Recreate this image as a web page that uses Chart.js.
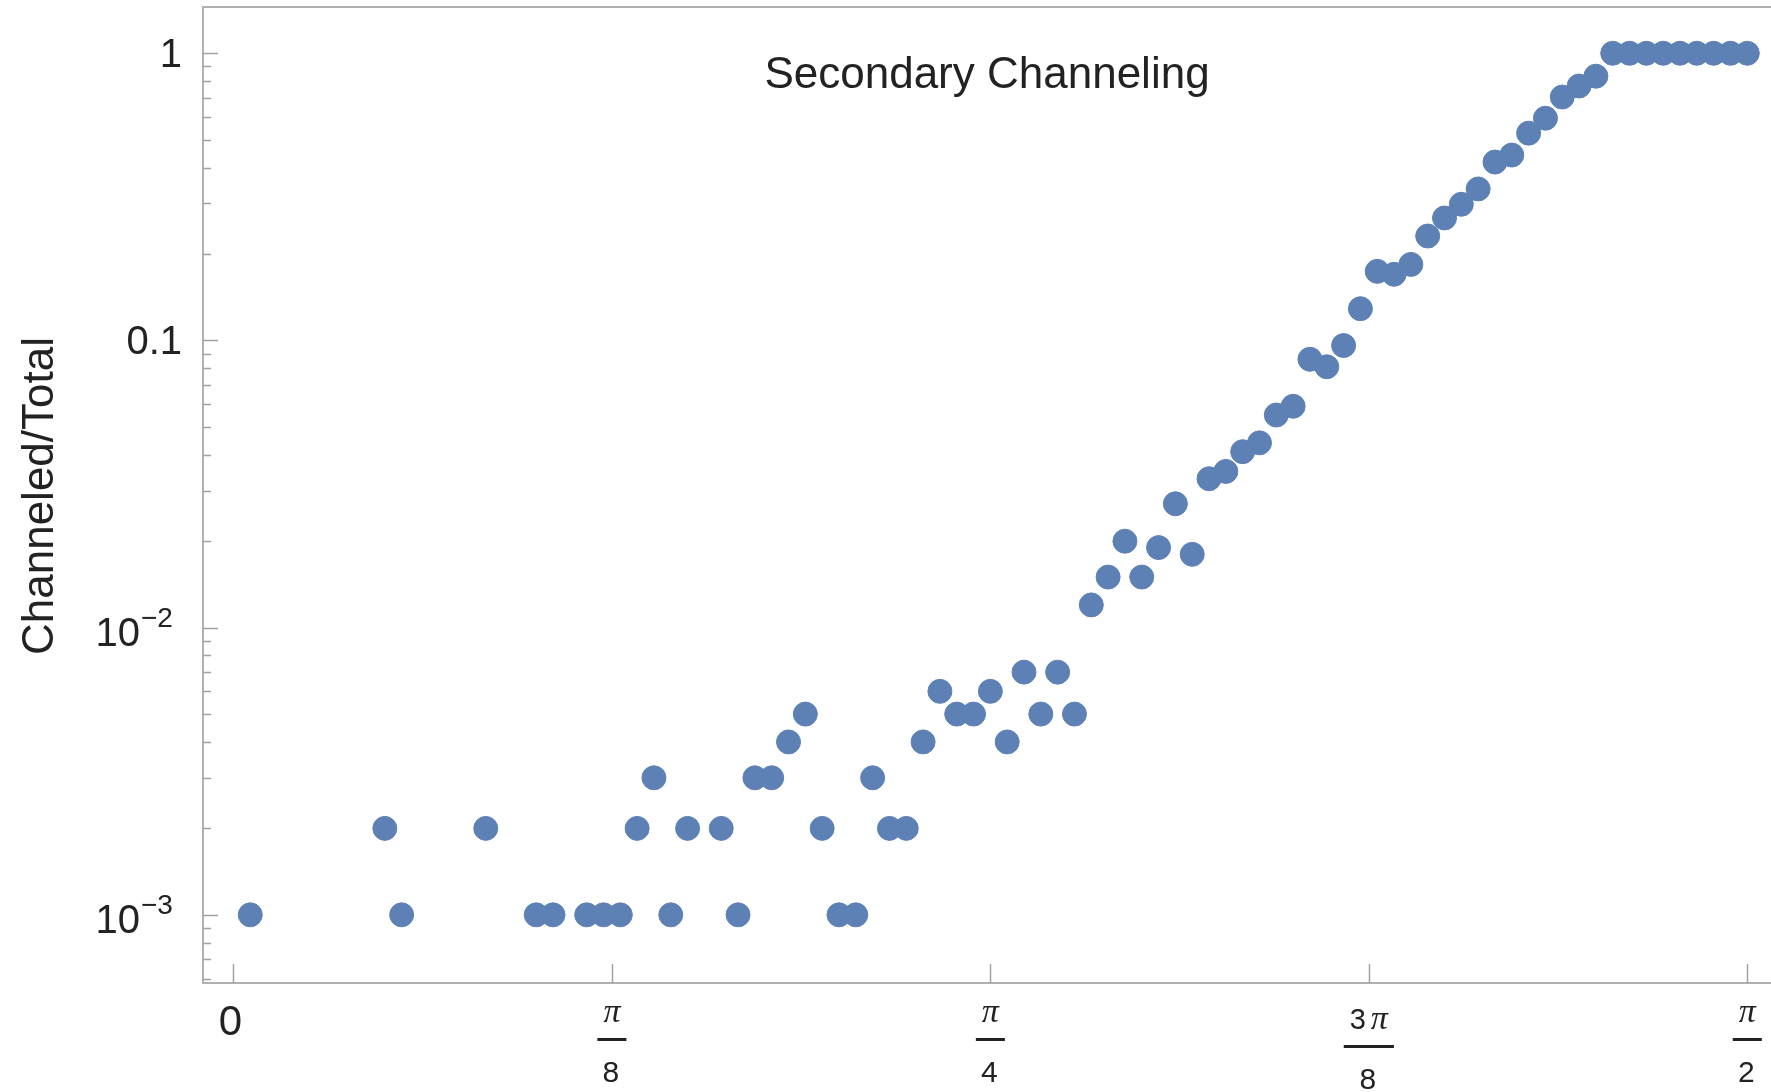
<!DOCTYPE html>
<html>
<head>
<meta charset="utf-8">
<title>Secondary Channeling</title>
<script src="https://cdn.jsdelivr.net/npm/chart.js@4.4.1/dist/chart.umd.min.js"></script>
<style>
    html, body { margin: 0; padding: 0; background: #ffffff; }
    #wrap { width: 1771px; height: 1092px; }
</style>
</head>
<body>
<div id="wrap"><canvas id="myChart" width="1771" height="1092"></canvas></div>
<script>
// angle in degrees (90 = pi/2), one point per degree where the ratio is non zero
var angleDeg = [
    1, 9, 10, 15, 18, 19, 21, 22, 23, 24, 25, 26, 27,
    29, 30, 31, 32, 33, 34, 35, 36, 37, 38, 39, 40,
    41, 42, 43, 44, 45, 46, 47, 48, 49, 50,
    51, 52, 53, 54, 55, 56, 57, 58, 59, 60,
    61, 62, 63, 64, 65, 66, 67, 68, 69, 70,
    71, 72, 73, 74, 75, 76, 77, 78, 79, 80,
    81, 82, 83, 84, 85, 86, 87, 88, 89, 90
];

var channeledRatio = [
    0.001, 0.002, 0.001, 0.002, 0.001, 0.001, 0.001, 0.001, 0.001, 0.002, 0.003, 0.001, 0.002,
    0.002, 0.001, 0.003, 0.003, 0.004, 0.005, 0.002, 0.001, 0.001, 0.003, 0.002, 0.002,
    0.004, 0.006, 0.005, 0.005, 0.006, 0.004, 0.007, 0.005, 0.007, 0.005,
    0.012, 0.015, 0.020, 0.015, 0.019, 0.027, 0.018, 0.033, 0.035, 0.041,
    0.044, 0.055, 0.059, 0.086, 0.081, 0.096, 0.129, 0.174, 0.170, 0.184,
    0.231, 0.267, 0.298, 0.337, 0.418, 0.442, 0.527, 0.594, 0.704, 0.769,
    0.832, 1, 1, 1, 1, 1, 1, 1, 1, 1
];

var xTickValues = [0, 22.5, 45, 67.5, 90];
var xTickLabels = ['0', 'π/8', 'π/4', '3π/8', 'π/2'];

var yTickValues = [1, 0.1, 0.01, 0.001];
var yTickLabels = ['1', '0.1', '10^-2', '10^-3'];

var chartTitle = 'Secondary Channeling';
var yAxisTitle = 'Channeled/Total';

var pointColor = '#5e81b5';
var axisGray = '#b0b0b0';
var tickGray = '#a0a0a0';
var textColor = '#222222';
var sans = '"Liberation Sans", Arial, Helvetica, sans-serif';
var piFont = 'italic 34px "Liberation Serif", "Times New Roman", serif';


// Mathematica style frame: ticks inside, fraction labels, powers of ten
var mathAxes = {
    id: 'mathAxes',
    afterDraw: function (chart) {
        var ctx = chart.ctx;
        var area = chart.chartArea;
        var xs = chart.scales.x;
        var ys = chart.scales.y;
        var i, k, px, py;

        ctx.save();

        // top frame line
        ctx.strokeStyle = axisGray;
        ctx.lineWidth = 2;
        ctx.beginPath();
        ctx.moveTo(area.left, area.top);
        ctx.lineTo(area.right, area.top);
        ctx.stroke();

        // x ticks
        ctx.strokeStyle = tickGray;
        ctx.lineWidth = 1.5;
        for (i = 0; i < xTickValues.length; i++) {
            px = Math.round(xs.getPixelForValue(xTickValues[i])) + 0.5;
            ctx.beginPath();
            ctx.moveTo(px, area.bottom);
            ctx.lineTo(px, area.bottom - 19);
            ctx.stroke();
        }

        // y ticks, major then minor
        for (i = 0; i < yTickValues.length; i++) {
            py = Math.round(ys.getPixelForValue(yTickValues[i])) + 0.5;
            ctx.beginPath();
            ctx.moveTo(area.left, py);
            ctx.lineTo(area.left + 15, py);
            ctx.stroke();
        }
        var decades = [0.0001, 0.001, 0.01, 0.1];
        for (i = 0; i < decades.length; i++) {
            for (k = 2; k <= 9; k++) {
                var v = k * decades[i];
                if (v < ys.min || v > ys.max) continue;
                py = Math.round(ys.getPixelForValue(v)) + 0.5;
                ctx.beginPath();
                ctx.moveTo(area.left, py);
                ctx.lineTo(area.left + 8, py);
                ctx.stroke();
            }
        }

        ctx.fillStyle = textColor;

        // y labels
        for (i = 0; i < yTickLabels.length; i++) {
            var lab = yTickLabels[i];
            py = ys.getPixelForValue(yTickValues[i]);
            ctx.textBaseline = 'alphabetic';
            if (lab.indexOf('^') < 0) {
                ctx.font = '40px ' + sans;
                ctx.textAlign = 'right';
                ctx.fillText(lab, area.left - 21, py + 14);
            } else {
                var parts = lab.split('^');
                ctx.font = '40px ' + sans;
                ctx.textAlign = 'right';
                ctx.fillText(parts[0], area.left - 63, py + 18);
                ctx.font = '28px ' + sans;
                ctx.textAlign = 'left';
                ctx.fillText(parts[1].replace('-', '\u2212'), area.left - 62, py - 1);
            }
        }

        // x labels
        for (i = 0; i < xTickLabels.length; i++) {
            var xl = xTickLabels[i];
            px = xs.getPixelForValue(xTickValues[i]);
            ctx.textBaseline = 'alphabetic';
            if (xl.indexOf('/') < 0) {
                ctx.font = '42px ' + sans;
                ctx.textAlign = 'center';
                ctx.fillText(xl, px - 3, area.bottom + 52);
                continue;
            }
            var frac = xl.split('/');
            var num = frac[0];
            var den = frac[1];
            var prefix = num.replace('π', '');
            var shift = prefix.length ? 7 : 0;

            ctx.font = '29px ' + sans;
            var prefixW = prefix.length ? ctx.measureText(prefix).width + 5 : 0;
            var denW = ctx.measureText(den).width;
            ctx.font = piFont;
            var piW = ctx.measureText('π').width;
            var numW = prefixW + piW;
            var startX = px - numW / 2;

            ctx.textAlign = 'left';
            if (prefix.length) {
                ctx.font = '29px ' + sans;
                ctx.fillText(prefix, startX, area.bottom + 39 + shift);
            }
            ctx.font = piFont;
            ctx.fillText('π', startX + prefixW, area.bottom + 39 + shift);

            var barW = Math.max(numW, denW) + 12;
            ctx.fillRect(px - barW / 2, area.bottom + 55 + shift, barW, 3);

            ctx.font = '30px ' + sans;
            ctx.textAlign = 'center';
            ctx.fillText(den, px - 1, area.bottom + 99 + shift);
        }

        // title inside the plot
        ctx.font = '44px ' + sans;
        ctx.textAlign = 'center';
        ctx.textBaseline = 'alphabetic';
        ctx.fillText(chartTitle, 987, 88);

        // vertical axis title
        ctx.translate(53, 496);
        ctx.rotate(-Math.PI / 2);
        ctx.font = '44px ' + sans;
        ctx.textAlign = 'center';
        ctx.fillText(yAxisTitle, 0, 0);

        ctx.restore();
    }
};


function drawChart() {
    var points = [];
    for (let i = 0; i < angleDeg.length; i++) {
        points.push({x: angleDeg[i], y: channeledRatio[i]});
    }

    var ctx = document.getElementById('myChart');
    var myChart = new Chart(ctx, {
        type: 'scatter',
        data: {
            datasets: [{
                label: 'Secondary Channeling',
                data: points,
                backgroundColor: pointColor,
                borderColor: pointColor,
                borderWidth: 1,
                pointRadius: 12,
                pointHoverRadius: 12
            }]
        },
        options: {
            responsive: false,
            animation: false,
            devicePixelRatio: 1,
            layout: {
                autoPadding: false,
                padding: {left: 203, top: 7, right: 0, bottom: 109}
            },
            plugins: {
                legend: {display: false},
                tooltip: {enabled: false}
            },
            scales: {
                x: {
                    type: 'linear',
                    min: -1.81,
                    max: 91.41,
                    ticks: {display: false},
                    grid: {display: false, drawTicks: false},
                    border: {display: true, color: axisGray, width: 2}
                },
                y: {
                    type: 'logarithmic',
                    min: 0.000579,
                    max: 1.449,
                    ticks: {display: false},
                    grid: {display: false, drawTicks: false},
                    border: {display: true, color: axisGray, width: 2}
                }
            }
        },
        plugins: [mathAxes]
    });
}

drawChart();
</script>
</body>
</html>
